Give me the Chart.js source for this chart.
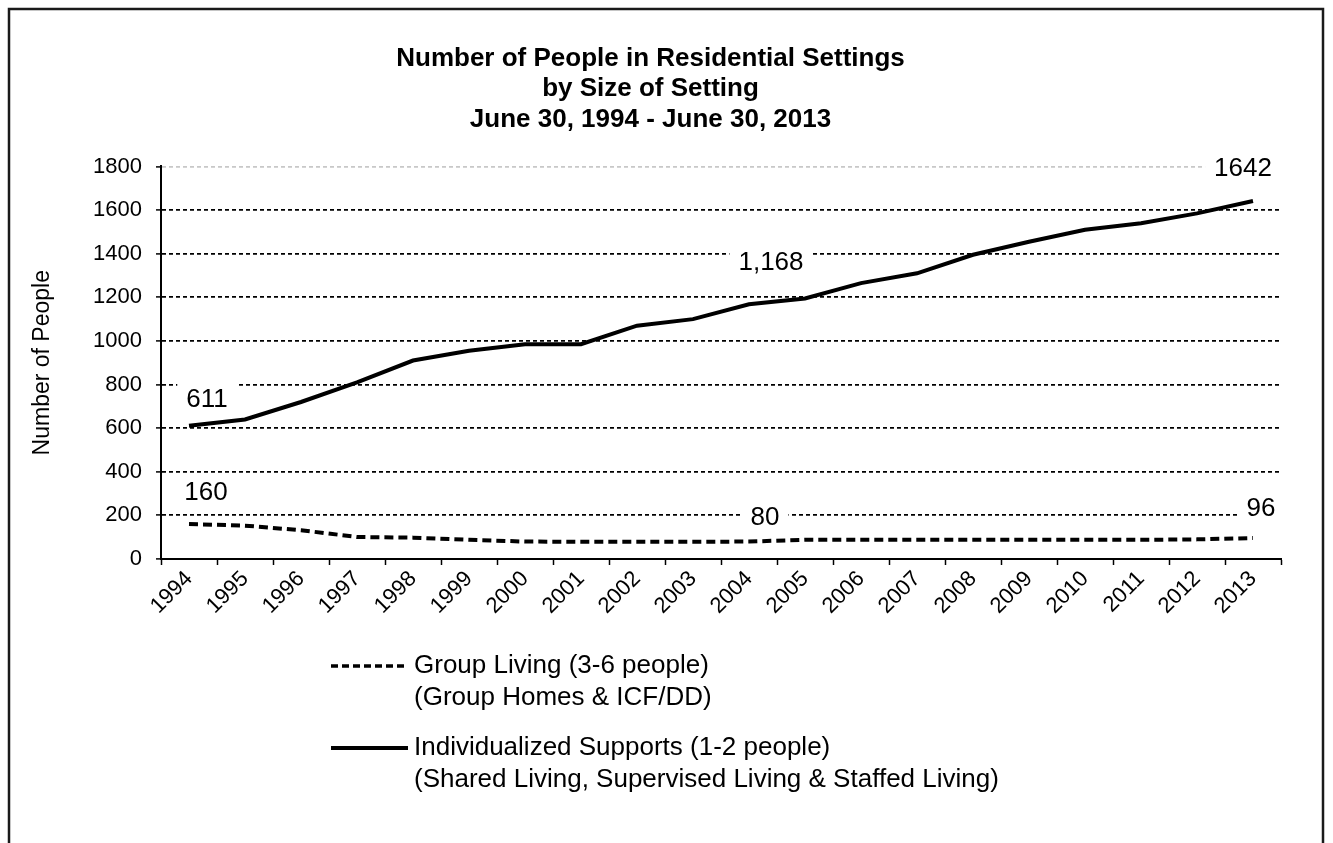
<!DOCTYPE html>
<html>
<head>
<meta charset="utf-8">
<script src="https://cdn.jsdelivr.net/npm/chart.js@4"></script>
<style>
  html, body { margin: 0; padding: 0; background: #fff; }
  #wrap { width: 1333px; height: 843px; position: relative; }
</style>
</head>
<body>
<div id="wrap"><canvas id="c" width="1333" height="843"></canvas></div>
<script>
// ---- data ----
const years = ['1994','1995','1996','1997','1998','1999','2000','2001','2002','2003',
               '2004','2005','2006','2007','2008','2009','2010','2011','2012','2013'];
const groupLiving = [160,153,132,101,98,88,80,79,79,79,80,88,88,88,88,88,88,88,90,96];
const individualized = [611,640,720,810,910,955,985,985,1070,1100,1168,1195,1265,1310,1395,1455,1510,1540,1585,1642];
const groupLabelIdx = [0, 10, 19];
const groupLabelText = ['160', '80', '96'];
const indivLabelIdx = [0, 10, 19];
const indivLabelText = ['611', '1,168', '1642'];
const yTicks = [0,200,400,600,800,1000,1200,1400,1600,1800];
const titleLines = ['Number of People in Residential Settings', 'by Size of Setting', 'June 30, 1994 - June 30, 2013'];
const yTitle = 'Number of People';
const legendGroup = ['Group Living (3-6 people)', '(Group Homes & ICF/DD)'];
const legendIndiv = ['Individualized Supports (1-2 people)', '(Shared Living, Supervised Living & Staffed Living)'];

const FONT = '"Liberation Sans", Arial, Helvetica, sans-serif';

// label offsets (pixel offsets of label centre from its point), per dataset
const labelOffsets = {
  0: [[17,-32],[16,-25],[8,-30]],
  1: [[18,-27],[22,-42],[-10,-33]]
};

const framePlugin = {
  id: 'frame',
  beforeDraw(chart) {
    const ctx = chart.ctx;
    ctx.save();
    ctx.fillStyle = '#fff';
    ctx.fillRect(0, 0, chart.width, chart.height);
    ctx.strokeStyle = '#1a1a1a';
    ctx.lineWidth = 2.5;
    ctx.strokeRect(9, 9, 1314, 900);
    ctx.restore();
  }
};

const dataLabelPlugin = {
  id: 'dlabels',
  afterDatasetsDraw(chart) {
    const ctx = chart.ctx;
    ctx.save();
    ctx.font = '26px ' + FONT;
    ctx.textAlign = 'center';
    ctx.textBaseline = 'middle';
    const sets = [[groupLabelIdx, groupLabelText], [indivLabelIdx, indivLabelText]];
    sets.forEach((s, di) => {
      const meta = chart.getDatasetMeta(di);
      s[0].forEach((idx, k) => {
        const pt = meta.data[idx];
        const off = labelOffsets[di][k];
        const cx = pt.x + off[0], cy = pt.y + off[1];
        const txt = s[1][k];
        const w = ctx.measureText(txt).width + 18;
        ctx.fillStyle = '#fff';
        ctx.fillRect(cx - w / 2, cy - 15, w, 30);
        ctx.fillStyle = '#000';
        ctx.fillText(txt, cx, cy + 1);
      });
    });
    ctx.restore();
  }
};

const legendPlugin = {
  id: 'customLegend',
  afterDraw(chart) {
    const ctx = chart.ctx;
    const base = chart.chartArea.bottom;
    ctx.save();
    ctx.font = '26px ' + FONT;
    ctx.fillStyle = '#000';
    ctx.textAlign = 'left';
    ctx.textBaseline = 'middle';
    const entries = [
      {lines: legendGroup, dash: [7, 4], y: base + 107},
      {lines: legendIndiv, dash: [], y: base + 189}
    ];
    entries.forEach(e => {
      ctx.strokeStyle = '#000';
      ctx.lineWidth = e.dash.length ? 3.5 : 4;
      ctx.setLineDash(e.dash);
      ctx.beginPath();
      ctx.moveTo(331, e.y);
      ctx.lineTo(408, e.y);
      ctx.stroke();
      ctx.setLineDash([]);
      e.lines.forEach((t, i) => ctx.fillText(t, 414, e.y + i * 32));
    });
    ctx.restore();
  }
};

new Chart(document.getElementById('c'), {
  type: 'line',
  data: {
    labels: years,
    datasets: [
      {
        label: legendGroup[0],
        data: groupLiving,
        borderColor: '#000',
        borderWidth: 4,
        borderDash: [9, 5],
        pointRadius: 0,
        tension: 0,
        fill: false
      },
      {
        label: legendIndiv[0],
        data: individualized,
        borderColor: '#000',
        borderWidth: 4,
        pointRadius: 0,
        tension: 0,
        fill: false
      }
    ]
  },
  options: {
    responsive: false,
    animation: false,
    layout: { padding: { left: 20, right: 52, top: 0, bottom: 0 } },
    plugins: {
      legend: { display: false },
      tooltip: { enabled: false },
      title: {
        display: true,
        text: titleLines,
        color: '#000',
        font: { family: FONT, size: 26, weight: 'bold', lineHeight: 1.16 },
        padding: { top: 44, bottom: 32 }
      }
    },
    scales: {
      x: {
        type: 'category',
        offset: true,
        grid: {
          display: true,
          drawOnChartArea: false,
          drawTicks: true,
          tickLength: 6,
          tickColor: '#000',
          tickWidth: 1.5,
          offset: true
        },
        border: { display: true, color: '#000', width: 2 },
        ticks: {
          color: '#000',
          font: { family: FONT, size: 22 },
          minRotation: 45,
          maxRotation: 45,
          autoSkip: false,
          padding: 1
        },
        afterFit(scale) { scale.height = 843 - 559; }
      },
      y: {
        min: 0,
        max: 1800,
        afterBuildTicks(scale) { scale.ticks = yTicks.map(v => ({ value: v })); },
        grid: {
          color: (c) => (c.tick && c.tick.value === 1800) ? '#c8c8c8' : '#000',
          lineWidth: 1.8,
          drawTicks: true,
          tickLength: 5,
          tickColor: '#000',
          tickWidth: 1.5,
          tickBorderDash: []
        },
        border: { display: true, color: '#000', width: 2, dash: [4, 3] },
        ticks: {
          color: '#000',
          font: { family: FONT, size: 22 },
          padding: 14,
          callback: (v) => String(v)
        },
        title: {
          display: true,
          text: yTitle,
          color: '#000',
          font: { family: FONT, size: 23 },
          padding: { top: 9, bottom: 0 }
        },
        afterFit(scale) { scale.width = 141; }
      }
    }
  },
  plugins: [framePlugin, dataLabelPlugin, legendPlugin]
});
</script>
</body>
</html>
